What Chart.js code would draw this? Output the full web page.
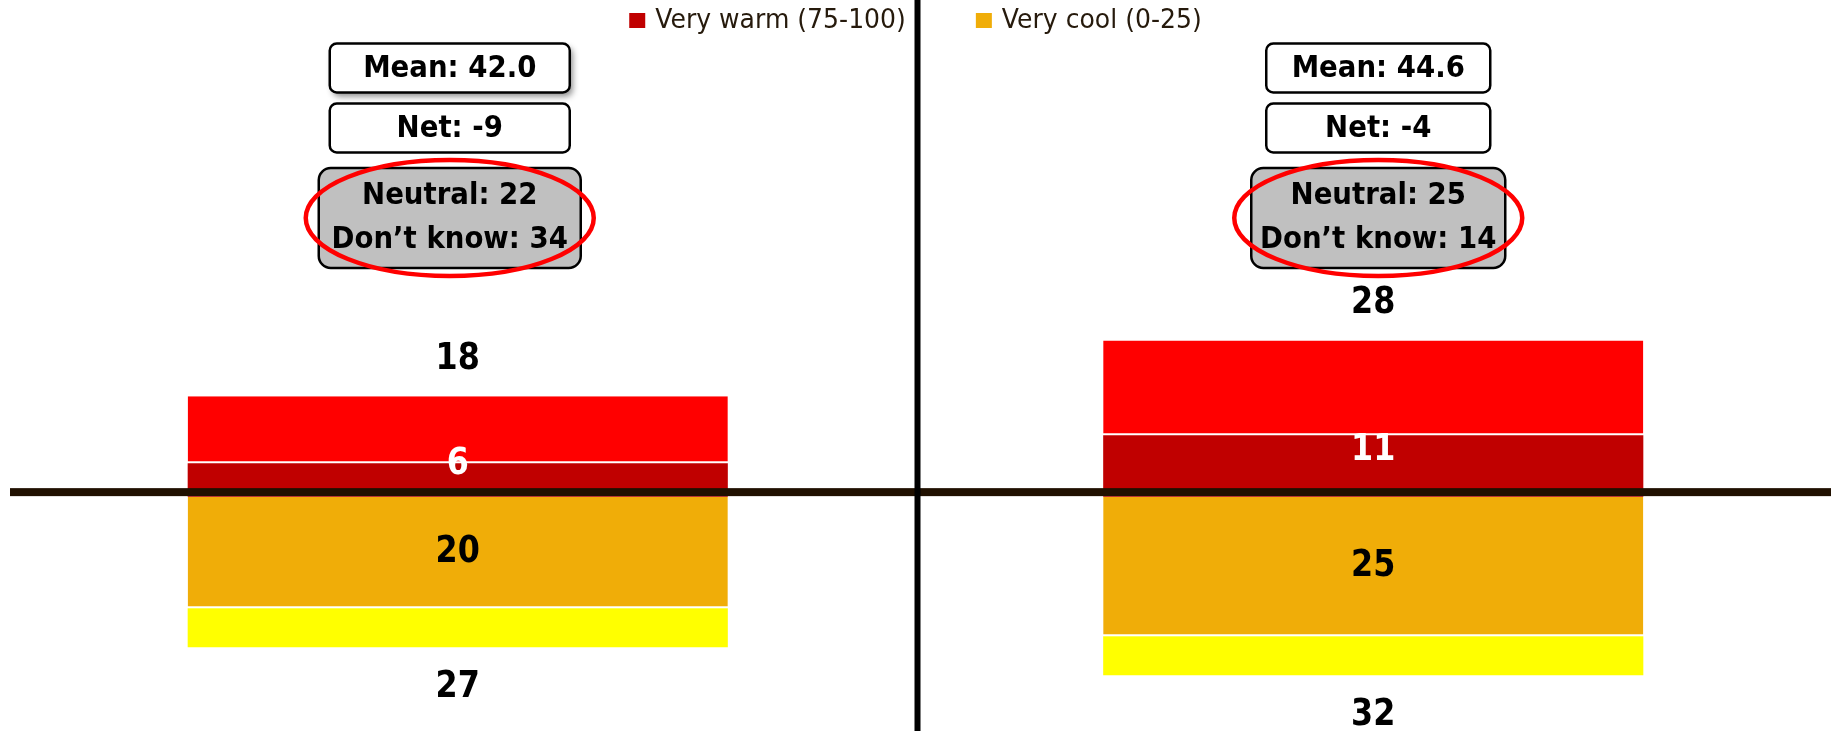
<!DOCTYPE html>
<html>
<head>
<meta charset="utf-8">
<script src="https://cdn.jsdelivr.net/npm/chart.js@4/dist/chart.umd.min.js"></script>
<style>
  html, body { margin: 0; padding: 0; background: #fff; }
  canvas { display: block; }
</style>
</head>
<body>
<canvas id="chart" width="1831" height="731"></canvas>
<script>
// Thermometer ratings, two panels: warm share above the line, cool share below
const panels = ['Panel 1', 'Panel 2'];
const veryWarm = [6, 11];
const somewhatWarm = [12, 17];
const veryCool = [20, 25];
const somewhatCool = [7, 7];
const means = [42.0, 44.6];
const nets = [-9, -4];
const neutral = [22, 25];
const dontKnow = [34, 14];
const seriesNames = ['Very warm (75-100)', 'Somewhat warm (51-74)', 'Very cool (0-25)', 'Somewhat cool (26-49)'];
const legendShown = [0, 2];

const colors = ['#c00000', '#ff0000', '#f0ad08', '#ffff00'];

// annotation boxes (pixels)
const layout = {
  meanY: 68, netY: 128, grayY: 218,
  boxDx: [-8, 5],
  boxW: [240, 224], boxH: 49,
  grayW: [262, 254], grayH: 100,
  ellRx: 144, ellRy: 58,
  shadow: [true, false]
};

// narrow, tall bold text: squeeze DejaVu horizontally
const labelFont = 'bold 37px "DejaVu Sans", sans-serif';
const boxFont = 'bold 30px "DejaVu Sans", sans-serif';
const legendFont = '27px "DejaVu Sans", sans-serif';
const legendSx = 0.93;

function drawText(ctx, str, x, y, font, color, sx = 1, align = 'center') {
  ctx.save();
  ctx.font = font;
  ctx.fillStyle = color;
  ctx.textAlign = align;
  ctx.textBaseline = 'middle';
  ctx.translate(x, y);
  ctx.scale(sx, 1);
  ctx.fillText(str, 0, 0);
  ctx.restore();
}

function drawBox(ctx, cx, cy, w, h, r, fill, shadow) {
  ctx.save();
  if (shadow) {
    ctx.shadowColor = 'rgba(0,0,0,0.45)';
    ctx.shadowBlur = 6;
    ctx.shadowOffsetX = 3;
    ctx.shadowOffsetY = 4;
  }
  ctx.beginPath();
  ctx.roundRect(cx - w / 2, cy - h / 2, w, h, r);
  ctx.fillStyle = fill;
  ctx.fill();
  ctx.restore();
  ctx.lineWidth = 2.5;
  ctx.strokeStyle = '#000';
  ctx.stroke();
}

const overlay = {
  id: 'overlay',
  afterDatasetsDraw(chart) {
    const { ctx, scales: { x, y } } = chart;
    const zero = y.getPixelForValue(0);
    ctx.save();

    // zero line and panel divider
    ctx.fillStyle = '#201000';
    ctx.fillRect(10, zero - 8.5, chart.width - 10, 8);
    const mid = (x.getPixelForValue(0) + x.getPixelForValue(1)) / 2;
    ctx.fillStyle = '#000';
    ctx.fillRect(mid - 1, 0, 6, chart.height);

    panels.forEach((p, i) => {
      const cx = x.getPixelForValue(i);
      const warmTotal = veryWarm[i] + somewhatWarm[i];
      const coolTotal = veryCool[i] + somewhatCool[i];

      drawText(ctx, String(warmTotal), cx, y.getPixelForValue(warmTotal) - 37, labelFont, '#000', 0.86);
      drawText(ctx, String(coolTotal), cx, y.getPixelForValue(-coolTotal) + 40, labelFont, '#000', 0.86);
      const vwMid = (y.getPixelForValue(veryWarm[i]) + zero) / 2;
      drawText(ctx, String(veryWarm[i]), cx, vwMid - 16, labelFont, '#fff', 0.86);
      const vcMid = (y.getPixelForValue(-veryCool[i]) + zero) / 2;
      drawText(ctx, String(veryCool[i]), cx, vcMid, labelFont, '#000', 0.86);

      // summary boxes
      const bx = cx + layout.boxDx[i];
      drawBox(ctx, bx, layout.meanY, layout.boxW[i], layout.boxH, 7, '#fff', layout.shadow[i]);
      drawText(ctx, 'Mean: ' + means[i].toFixed(1), bx, layout.meanY + 1, boxFont, '#000', 0.92);
      drawBox(ctx, bx, layout.netY, layout.boxW[i], layout.boxH, 7, '#fff', false);
      drawText(ctx, 'Net: ' + nets[i], bx, layout.netY + 1, boxFont, '#000', 0.92);
      drawBox(ctx, bx, layout.grayY, layout.grayW[i], layout.grayH, 12, '#c0c0c0', false);
      drawText(ctx, 'Neutral: ' + neutral[i], bx, layout.grayY - 22, boxFont, '#000', 0.92);
      drawText(ctx, 'Don\u2019t know: ' + dontKnow[i], bx, layout.grayY + 22, boxFont, '#000', 0.92);

      ctx.beginPath();
      ctx.ellipse(bx, layout.grayY, layout.ellRx, layout.ellRy, 0, 0, Math.PI * 2);
      ctx.lineWidth = 4.5;
      ctx.strokeStyle = '#ff0000';
      ctx.stroke();
    });

    // legend (two entries)
    ctx.font = legendFont;
    const items = legendShown.map(k => ({ label: seriesNames[k], color: colors[k], w: ctx.measureText(seriesNames[k]).width * legendSx }));
    const total = items.reduce((s, it) => s + 26 + it.w, 0) + 70 * (items.length - 1);
    let lx = chart.width / 2 - total / 2;
    items.forEach(it => {
      ctx.fillStyle = it.color;
      ctx.fillRect(lx, 13, 16, 15);
      drawText(ctx, it.label, lx + 26, 21, legendFont, '#261a0c', legendSx, 'left');
      lx += 26 + it.w + 70;
    });

    ctx.restore();
  }
};

new Chart(document.getElementById('chart'), {
  type: 'bar',
  data: {
    labels: panels,
    datasets: [
      { label: seriesNames[0], data: veryWarm, backgroundColor: colors[0], borderWidth: 0 },
      { label: seriesNames[1], data: somewhatWarm, backgroundColor: colors[1],
        borderColor: '#fff', borderWidth: { bottom: 2 }, borderSkipped: false },
      { label: seriesNames[2], data: veryCool.map(v => -v), backgroundColor: colors[2],
        borderColor: '#fff', borderWidth: { bottom: 2 }, borderSkipped: false },
      { label: seriesNames[3], data: somewhatCool.map(v => -v), backgroundColor: colors[3], borderWidth: 0 }
    ]
  },
  options: {
    responsive: false,
    devicePixelRatio: 1,
    animation: false,
    layout: { padding: 0 },
    datasets: { bar: { categoryPercentage: 1, barPercentage: 0.59 } },
    plugins: { legend: { display: false }, tooltip: { enabled: false } },
    scales: {
      x: { stacked: true, display: false },
      y: { stacked: true, display: false, min: -42, max: 89 }
    }
  },
  plugins: [overlay]
});
</script>
</body>
</html>
